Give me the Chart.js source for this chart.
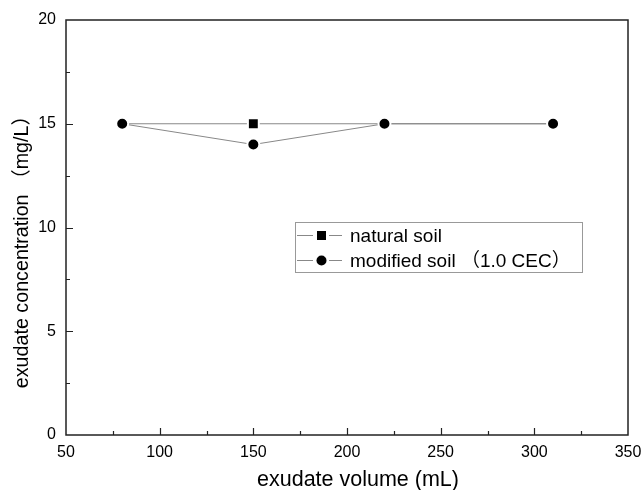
<!DOCTYPE html>
<html>
<head>
<meta charset="utf-8">
<script src="https://cdn.jsdelivr.net/npm/chart.js@4"></script>
<style>
html,body{margin:0;padding:0;background:#fff;}
#wrap{width:642px;height:490px;}
</style>
</head>
<body>
<div id="wrap"><canvas id="c" width="642" height="490"></canvas></div>
<script>
const xValues = [80, 150, 220, 310];
const naturalSoil = [15, 15, 15, 15];
const modifiedSoil = [15, 14, 15, 15];
const seriesNames = ['natural soil', 'modified soil （1.0 CEC）'];
const xTitle = 'exudate volume (mL)';
const yTitle = 'exudate concentration （mg/L）';

const FONT = '"Liberation Sans", Arial, "Noto Sans CJK SC", sans-serif';

const toPts = (ys) => xValues.map((x, i) => ({x: x, y: ys[i]}));

const frameTicks = {
  id: 'frameTicks',
  afterDraw(chart) {
    const {ctx, chartArea: a, scales} = chart;
    ctx.save();
    ctx.strokeStyle = '#222';
    ctx.lineWidth = 1.5;
    ctx.strokeRect(a.left, a.top, a.right - a.left, a.bottom - a.top);
    ctx.lineWidth = 1.2;
    ctx.beginPath();
    for (let v = 75; v < 350; v += 25) {
      const px = Math.round(scales.x.getPixelForValue(v)) + 0.5;
      const len = (v % 50 === 0) ? 7 : 4;
      ctx.moveTo(px, a.bottom);
      ctx.lineTo(px, a.bottom - len);
    }
    for (let v = 2.5; v < 20; v += 2.5) {
      const py = Math.round(scales.y.getPixelForValue(v)) + 0.5;
      const len = (v % 5 === 0) ? 7 : 4;
      ctx.moveTo(a.left, py);
      ctx.lineTo(a.left + len, py);
    }
    ctx.stroke();
    ctx.fillStyle = '#000';
    ctx.textAlign = 'center';
    ctx.textBaseline = 'middle';
    // x-axis title
    ctx.font = '21.5px ' + FONT;
    ctx.fillText(xTitle, 358, 480);
    // y-axis title
    ctx.translate(23, 247);
    ctx.rotate(-Math.PI / 2);
    ctx.font = '19.7px ' + FONT;
    ctx.fillText(yTitle, 0, 0);
    ctx.restore();
  }
};

const customLegend = {
  id: 'customLegend',
  afterDraw(chart) {
    const {ctx} = chart;
    const bx = 295.5, by = 222.5, bw = 287, bh = 50;
    ctx.save();
    ctx.strokeStyle = '#999';
    ctx.lineWidth = 1;
    ctx.strokeRect(bx, by, bw, bh);
    ctx.font = '19px ' + FONT;
    ctx.textBaseline = 'middle';
    ctx.fillStyle = '#000';
    const rows = [235, 260];
    chart.data.datasets.forEach((ds, i) => {
      const y = rows[i] + 0.5;
      ctx.strokeStyle = '#888';
      ctx.lineWidth = 1;
      ctx.beginPath();
      ctx.moveTo(297, y); ctx.lineTo(313, y);
      ctx.moveTo(329, y); ctx.lineTo(342, y);
      ctx.stroke();
      ctx.fillStyle = '#000';
      if (ds.pointStyle === 'rect') {
        ctx.fillRect(317, rows[i] - 4, 9, 9);
      } else {
        ctx.beginPath();
        ctx.arc(321.5, y, 5, 0, Math.PI * 2);
        ctx.fill();
      }
      ctx.fillText(ds.label, 350, y + 1);
    });
    ctx.restore();
  }
};

new Chart(document.getElementById('c'), {
  type: 'line',
  data: {
    datasets: [
      {
        label: seriesNames[0],
        data: toPts(naturalSoil),
        borderColor: '#888',
        borderWidth: 1,
        pointStyle: 'rect',
        pointRadius: 7.7,
        pointBackgroundColor: '#000',
        pointBorderColor: '#fff',
        pointBorderWidth: 2,
        order: 1
      },
      {
        label: seriesNames[1],
        data: toPts(modifiedSoil),
        borderColor: '#888',
        borderWidth: 1,
        pointStyle: 'circle',
        pointRadius: 6,
        pointBackgroundColor: '#000',
        pointBorderColor: '#fff',
        pointBorderWidth: 2,
        order: 0
      }
    ]
  },
  options: {
    responsive: false,
    animation: false,
    layout: {padding: {left: 0, top: 20, right: 0, bottom: 0}},
    plugins: {legend: {display: false}, tooltip: {enabled: false}},
    scales: {
      x: {
        type: 'linear',
        min: 50, max: 350,
        afterFit(s) { s.height = 55; s.paddingLeft = 0; s.paddingRight = 14; },
        grid: {display: false, drawTicks: false},
        border: {display: false},
        ticks: {stepSize: 50, padding: 8, color: '#000', font: {family: FONT, size: 16}},
        title: {display: false}
      },
      y: {
        type: 'linear',
        min: 0, max: 20,
        afterFit(s) { s.width = 66; },
        grid: {display: false, drawTicks: false},
        border: {display: false},
        ticks: {stepSize: 5, padding: 10, color: '#000', font: {family: FONT, size: 16}},
        title: {display: false}
      }
    }
  },
  plugins: [frameTicks, customLegend]
});
</script>
</body>
</html>
